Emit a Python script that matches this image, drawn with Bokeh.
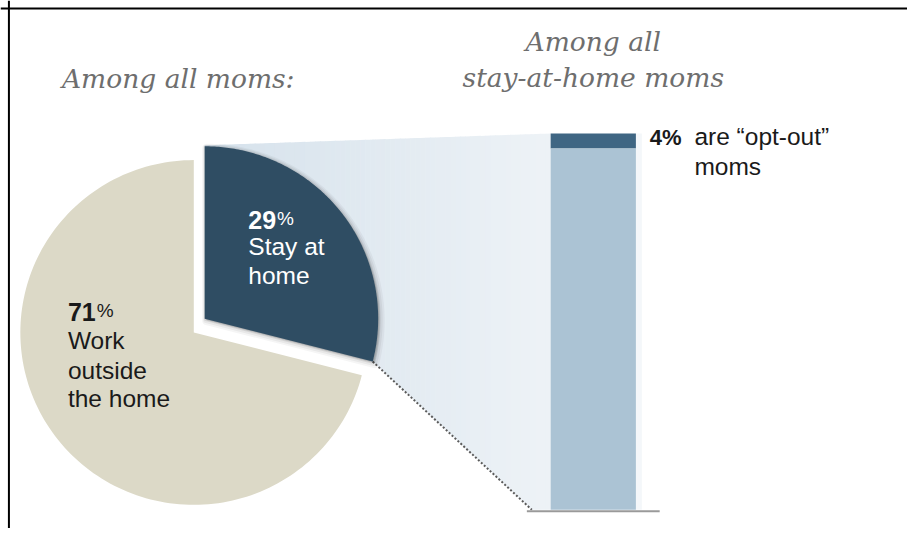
import numpy as np
from bokeh.plotting import figure
from bokeh.models import Range1d, Span
from bokeh.embed import file_html
from bokeh.resources import INLINE
from bokeh.core.properties import value

# ---------------- data ----------------
pie_labels = ["Stay at home", "Work outside the home"]
pie_shares = [29, 71]                      # percent of all moms
bar_labels = ["are \u201copt-out\u201d moms", "other stay-at-home moms"]
bar_shares = [4, 96]                       # percent of stay-at-home moms
title_left = "Among all moms:"
title_right = ["Among all", "stay-at-home moms"]

# ---------------- layout (reference-pixel coordinates) ----------------
W, H = 907, 528
p = figure(width=W, height=H, x_range=Range1d(0, 915), y_range=Range1d(536, 0),
           output_backend="svg", toolbar_location=None, min_border=0)
p.xaxis.visible = False
p.yaxis.visible = False
p.grid.visible = False
p.outline_line_color = None
p.background_fill_color = "white"
p.border_fill_color = "white"

SANS = value("Liberation Sans")
SERIF = value("DejaVu Serif")

def wedge(cx, cy, r, a0, a1, n=160):
    a = np.radians(np.linspace(a0, a1, n))
    xs = np.concatenate([[cx], cx + r * np.sin(a), [cx]])
    ys = np.concatenate([[cy], cy - r * np.cos(a), [cy]])
    return xs, ys

R = 175
pie_c = (195, 337)          # main pie centre
expl = (11, -14)            # offset of exploded slice
cum = np.cumsum([0] + pie_shares) / 100 * 360
stay_a0, stay_a1 = cum[0], cum[1]
work_a0, work_a1 = cum[1], cum[2]
sc = (pie_c[0] + expl[0], pie_c[1] + expl[1])
corner_top = (sc[0], sc[1] - R)
corner_bot = (sc[0] + R * np.sin(np.radians(stay_a1)), sc[1] - R * np.cos(np.radians(stay_a1)))

# bar geometry
bar_x0, bar_x1 = 555, 641
bar_top_px, bar_bot_px = 135, 517
px_per = (bar_bot_px - bar_top_px) / sum(bar_shares)
base_left = 536

# ---------------- connector band with gradient ----------------
def top_edge(x):
    return np.interp(x, [corner_top[0], bar_x0], [corner_top[1] - 1, bar_top_px])

def bot_edge(x):
    return np.interp(x, [corner_top[0], corner_bot[0], base_left, bar_x0],
                     [sc[1], corner_bot[1], bar_bot_px, bar_bot_px])

xs_break = np.unique(np.concatenate([np.linspace(corner_top[0], bar_x0, 70),
                                     [corner_bot[0], base_left]]))
c0 = np.array([214, 226, 236])
c1 = np.array([238, 243, 247])
sx, sy, scol = [], [], []
for i in range(len(xs_break) - 1):
    a, b = xs_break[i], xs_break[i + 1] + 0.6
    b = min(b, bar_x0)
    sx.append([a, b, b, a])
    sy.append([top_edge(a), top_edge(b), bot_edge(b), bot_edge(a)])
    t = (0.5 * (a + b) - corner_top[0]) / (bar_x0 - corner_top[0])
    c = (c0 + (c1 - c0) * t).astype(int)
    scol.append("#%02x%02x%02x" % tuple(c))
p.patches(sx, sy, fill_color=scol, line_color=None)

# faint strip right of bar
p.quad(left=bar_x1, right=bar_x1 + 6, top=bar_top_px, bottom=bar_bot_px,
       fill_color="#f4f7fa", line_color=None)

# dotted connector edge
p.line([corner_bot[0], base_left], [corner_bot[1], bar_bot_px],
       line_color="#5a5a5a", line_width=2, line_dash="2 2")

# ---------------- pie ----------------
wx, wy = wedge(pie_c[0], pie_c[1], R, work_a0, work_a1)
p.patch(wx, wy, fill_color="#dcd9c7", line_color=None)

# soft shadow for exploded slice
sx_, sy_ = wedge(sc[0], sc[1], R, stay_a0, stay_a1)
for lw, al, off in [(9, 0.04, 2), (6, 0.05, 1.5), (3, 0.08, 1)]:
    p.patch(sx_ + off, sy_ + off, fill_color="black", fill_alpha=al,
            line_color="black", line_alpha=al, line_width=lw, line_join="round")
p.patch(sx_, sy_, fill_color="#2f4d63", line_color=None)

# ---------------- stacked bar ----------------
tops, bots = [], []
acc = 0
for v in bar_shares:
    tops.append(bar_top_px + acc * px_per)
    acc += v
    bots.append(bar_top_px + acc * px_per)
p.quad(left=bar_x0, right=bar_x1, top=tops, bottom=bots,
       fill_color=["#3f6683", "#abc3d4"], line_color=None)
p.line([531, 665], [bar_bot_px + 1.5, bar_bot_px + 1.5], line_color="#9a9a9a", line_width=2.2)

# ---------------- texts ----------------
p.text([62], [95], text=[title_left], text_font=SERIF, text_font_style="italic",
       text_font_size="26.5px", text_color="#6e6e6e")
p.text([598, 598], [57, 94], text=title_right, text_font=SERIF, text_font_style="italic",
       text_font_size="26.5px", text_color="#6e6e6e", text_align="center")

BODY = "24.5px"
# 71% label
p.text([68], [325], text=[str(pie_shares[1])], text_font=SANS, text_font_style="bold",
       text_font_size="25px", text_color="#1a1a1a")
p.text([97], [325], text=["%"], text_font=SANS, text_font_size="19px", text_color="#1a1a1a")
p.text([68, 68, 68], [359, 389, 418], text=["Work", "outside", "the home"], text_font=SANS,
       text_font_size=BODY, text_color="#1a1a1a")

# 29% label
p.text([250], [232], text=[str(pie_shares[0])], text_font=SANS, text_font_style="bold",
       text_font_size="25px", text_color="white")
p.text([279], [232], text=["%"], text_font=SANS, text_font_size="19px", text_color="white")
p.text([250, 250], [263, 293], text=["Stay at", "home"], text_font=SANS,
       text_font_size=BODY, text_color="white")

# 4% label
p.text([655], [152], text=[str(bar_shares[0]) + "%"], text_font=SANS, text_font_style="bold",
       text_font_size="22px", text_color="#1a1a1a")
p.text([700, 700], [152, 182], text=["are \u201copt-out\u201d", "moms"], text_font=SANS,
       text_font_size=BODY, text_color="#1a1a1a")

# frame lines (top and left)
p.add_layout(Span(location=8, dimension="width", line_color="black", line_width=2))
p.add_layout(Span(location=8.5, dimension="height", line_color="black", line_width=2))

open("out.html", "w").write(file_html(p, INLINE))
